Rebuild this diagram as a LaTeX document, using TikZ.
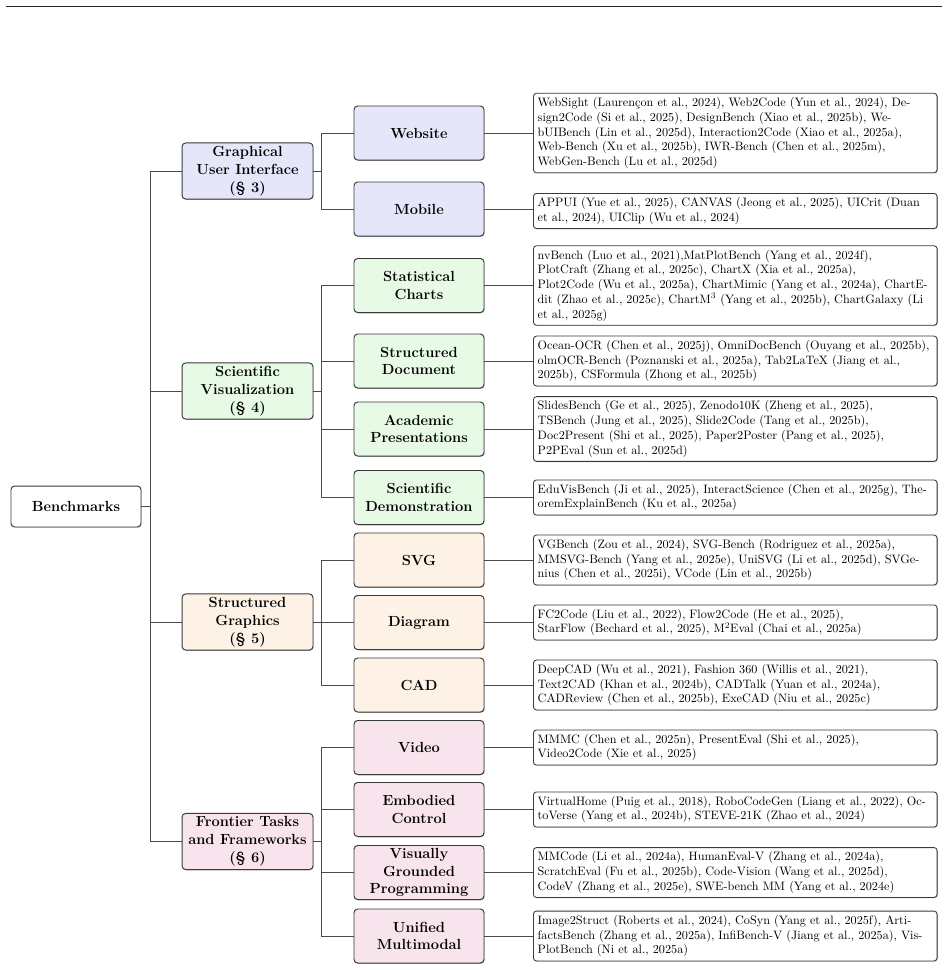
\documentclass[tikz,border=0pt]{standalone}
\usetikzlibrary{shadows}
\definecolor{guifill}{HTML}{E6E6FA}
\definecolor{scifill}{HTML}{E6FAE6}
\definecolor{sgfill}{HTML}{FEF2E6}
\definecolor{ftfill}{HTML}{F8E4EC}
\definecolor{bordercol}{HTML}{3A3A3A}
\definecolor{linecol}{HTML}{4A4A4A}
\newcommand\lline[1]{\mbox{#1}}
\tikzset{
 softshadow/.style={drop shadow={shadow xshift=0.6pt, shadow yshift=-0.6pt, opacity=0.25, fill=black}},
 base/.style={draw=bordercol, rounded corners=3pt, line width=0.8pt, align=center,
   font=\fontsize{12}{14.6}\selectfont\bfseries, inner sep=1pt, softshadow},
 rootbox/.style={base, fill=white, minimum width=106.6pt, minimum height=33.6pt},
 lone/.style={base, minimum width=107.4pt, minimum height=46pt},
 ltwo/.style={base, minimum width=106.6pt, minimum height=44.3pt},
 leafbox/.style={draw=bordercol, rounded corners=2.5pt, line width=0.7pt, fill=white,
   anchor=west, text width=324pt, align=left, inner xsep=3.5pt, inner ysep=2pt,
   font=\fontsize{10}{12.1}\selectfont, softshadow},
 ltwoN/.style={leafbox, minimum height=28.8pt},
 lthreeN/.style={leafbox, minimum height=40.9pt},
 lfourN/.style={leafbox, minimum height=53.1pt},
 lfiveN/.style={leafbox, minimum height=65.2pt},
 link/.style={draw=linecol, line width=0.8pt},
}
\begin{document}
\begin{tikzpicture}[x=0.82pt, y=-0.82pt]
\useasboundingbox (0,0) rectangle (948,970);
\coordinate (ruleL) at (6,6.7);
\coordinate (ruleR) at (942,6.7);
\draw[line width=1.1pt, black!85] (ruleL) -- (ruleR);

% root
\node[rootbox] (root) at (76,506.5) {Benchmarks};

% level 1
\node[lone, fill=guifill] (gui) at (247.5,171) {Graphical\\User Interface\\(\S~3)};
\node[lone, fill=scifill] (sci) at (247.5,391) {Scientific\\Visualization\\(\S~4)};
\node[lone, fill=sgfill]  (sg)  at (247.5,622) {Structured\\Graphics\\(\S~5)};
\node[lone, fill=ftfill]  (ft)  at (247.5,841.5) {Frontier Tasks\\and Frameworks\\(\S~6)};

% level 2
\node[ltwo, fill=guifill] (web) at (419,133) {Website};
\node[ltwo, fill=guifill] (mob) at (419,209) {Mobile};
\node[ltwo, fill=scifill] (stat) at (419,285.5) {Statistical\\Charts};
\node[ltwo, fill=scifill] (sdoc) at (419,361) {Structured\\Document};
\node[ltwo, fill=scifill] (acad) at (419,429) {Academic\\Presentations};
\node[ltwo, fill=scifill] (sdemo) at (419,497.5) {Scientific\\Demonstration};
\node[ltwo, fill=sgfill] (svg) at (419,560) {SVG};
\node[ltwo, fill=sgfill] (diag) at (419,622.5) {Diagram};
\node[ltwo, fill=sgfill] (cad) at (419,685) {CAD};
\node[ltwo, fill=ftfill] (video) at (419,747.5) {Video};
\node[ltwo, fill=ftfill] (emb) at (419,809.5) {Embodied\\Control};
\node[ltwo, fill=ftfill] (vgp) at (419,872.5) {Visually\\Grounded\\Programming};
\node[ltwo, fill=ftfill] (uni) at (419,936) {Unified\\Multimodal};

% leaves
\node[lfiveN] (webL) at (533,133) {\lline{WebSight (Laurençon et al., 2024), Web2Code (Yun et al., 2024), De-}\\
\lline{sign2Code (Si et al., 2025), DesignBench (Xiao et al., 2025b), We-}\\
\lline{bUIBench (Lin et al., 2025d), Interaction2Code (Xiao et al., 2025a),}\\
\lline{Web-Bench (Xu et al., 2025b), IWR-Bench (Chen et al., 2025m),}\\
\lline{WebGen-Bench (Lu et al., 2025d)}};
\node[ltwoN] (mobL) at (533,211) {\lline{APPUI (Yue et al., 2025), CANVAS (Jeong et al., 2025), UICrit (Duan}\\
\lline{et al., 2024), UIClip (Wu et al., 2024)}};
\node[lfiveN] (statL) at (533,285.5) {\lline{nvBench (Luo et al., 2021),MatPlotBench (Yang et al., 2024f),}\\
\lline{PlotCraft (Zhang et al., 2025c), ChartX (Xia et al., 2025a),}\\
\lline{Plot2Code (Wu et al., 2025a), ChartMimic (Yang et al., 2024a), ChartE-}\\
\lline{dit (Zhao et al., 2025c), ChartM$^3$ (Yang et al., 2025b), ChartGalaxy (Li}\\
\lline{et al., 2025g)}};
\node[lthreeN] (sdocL) at (533,361) {\lline{Ocean-OCR (Chen et al., 2025j), OmniDocBench (Ouyang et al., 2025b),}\\
\lline{olmOCR-Bench (Poznanski et al., 2025a), Tab2LaTeX (Jiang et al.,}\\
\lline{2025b), CSFormula (Zhong et al., 2025b)}};
\node[lfourN] (acadL) at (533,429) {\lline{SlidesBench (Ge et al., 2025), Zenodo10K (Zheng et al., 2025),}\\
\lline{TSBench (Jung et al., 2025), Slide2Code (Tang et al., 2025b),}\\
\lline{Doc2Present (Shi et al., 2025), Paper2Poster (Pang et al., 2025),}\\
\lline{P2PEval (Sun et al., 2025d)}};
\node[ltwoN] (sdemoL) at (533,497.5) {\lline{EduVisBench (Ji et al., 2025), InteractScience (Chen et al., 2025g), The-}\\
\lline{oremExplainBench (Ku et al., 2025a)}};
\node[lthreeN] (svgL) at (533,560) {\lline{VGBench (Zou et al., 2024), SVG-Bench (Rodriguez et al., 2025a),}\\
\lline{MMSVG-Bench (Yang et al., 2025e), UniSVG (Li et al., 2025d), SVGe-}\\
\lline{nius (Chen et al., 2025i), VCode (Lin et al., 2025b)}};
\node[ltwoN] (diagL) at (533,622.5) {\lline{FC2Code (Liu et al., 2022), Flow2Code (He et al., 2025),}\\
\lline{StarFlow (Bechard et al., 2025), M$^2$Eval (Chai et al., 2025a)}};
\node[lthreeN] (cadL) at (533,685) {\lline{DeepCAD (Wu et al., 2021), Fashion 360 (Willis et al., 2021),}\\
\lline{Text2CAD (Khan et al., 2024b), CADTalk (Yuan et al., 2024a),}\\
\lline{CADReview (Chen et al., 2025b), ExeCAD (Niu et al., 2025c)}};
\node[ltwoN] (videoL) at (533,747.5) {\lline{MMMC (Chen et al., 2025n), PresentEval (Shi et al., 2025),}\\
\lline{Video2Code (Xie et al., 2025)}};
\node[ltwoN] (embL) at (533,809.5) {\lline{VirtualHome (Puig et al., 2018), RoboCodeGen (Liang et al., 2022), Oc-}\\
\lline{toVerse (Yang et al., 2024b), STEVE-21K (Zhao et al., 2024)}};
\node[lthreeN] (vgpL) at (533,872.5) {\lline{MMCode (Li et al., 2024a), HumanEval-V (Zhang et al., 2024a),}\\
\lline{ScratchEval (Fu et al., 2025b), Code-Vision (Wang et al., 2025d),}\\
\lline{CodeV (Zhang et al., 2025e), SWE-bench MM (Yang et al., 2024e)}};
\node[lthreeN] (uniL) at (533,936) {\lline{Image2Struct (Roberts et al., 2024), CoSyn (Yang et al., 2025f), Arti-}\\
\lline{factsBench (Zhang et al., 2025a), InfiBench-V (Jiang et al., 2025a), Vis-}\\
\lline{PlotBench (Ni et al., 2025a)}};

% connectors root -> level 1
\foreach \c in {gui,sci,sg,ft}
  \draw[link] (root.east) -- ++(9,0) |- (\c.west);
% level 1 -> level 2
\foreach \c in {web,mob}
  \draw[link] (gui.east) -- ++(8,0) |- (\c.west);
\foreach \c in {stat,sdoc,acad,sdemo}
  \draw[link] (sci.east) -- ++(8,0) |- (\c.west);
\foreach \c in {svg,diag,cad}
  \draw[link] (sg.east) -- ++(8,0) |- (\c.west);
\foreach \c in {video,emb,vgp,uni}
  \draw[link] (ft.east) -- ++(8,0) |- (\c.west);
% level 2 -> leaves
\foreach \a/\b in {web/webL,mob/mobL,stat/statL,sdoc/sdocL,acad/acadL,sdemo/sdemoL,svg/svgL,diag/diagL,cad/cadL,video/videoL,emb/embL,vgp/vgpL,uni/uniL}
  \draw[link] (\a.east) -- (\a.east -| \b.west);
\end{tikzpicture}
\end{document}
